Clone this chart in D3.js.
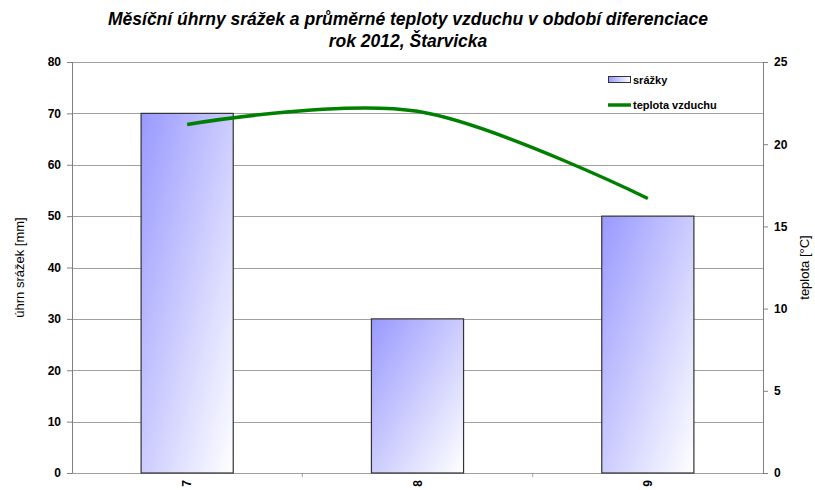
<!DOCTYPE html>
<html>
<head>
<meta charset="utf-8">
<script src="https://cdn.jsdelivr.net/npm/d3@7"></script>
<style>
  body { margin: 0; background: #fff; }
  text { font-family: "Liberation Sans", Arial, sans-serif; }
</style>
</head>
<body>
<div id="chart"></div>
<script>
var width = 815,
    height = 490;

var months = ["7", "8", "9"];
var srazky = [70, 30, 50];
var teplota = [21.2, 22.0, 16.7];
var leftTicks = [0, 10, 20, 30, 40, 50, 60, 70, 80];
var rightTicks = [0, 5, 10, 15, 20, 25];

var margin = {top: 62, right: 52, bottom: 17, left: 72};
var plotW = width - margin.left - margin.right,
    plotH = height - margin.top - margin.bottom;

var svg = d3.select("#chart").append("svg")
    .attr("width", width)
    .attr("height", height);

var defs = svg.append("defs");
var grad = defs.append("linearGradient")
    .attr("id", "barGrad")
    .attr("x1", "0%").attr("y1", "0%")
    .attr("x2", "100%").attr("y2", "100%");
grad.append("stop").attr("offset", "0%").attr("stop-color", "#9999ff");
grad.append("stop").attr("offset", "100%").attr("stop-color", "#ffffff");

var legGrad = defs.append("linearGradient")
    .attr("id", "legGrad")
    .attr("x1", "0%").attr("y1", "0%")
    .attr("x2", "100%").attr("y2", "0%");
legGrad.append("stop").attr("offset", "0%").attr("stop-color", "#9999ff");
legGrad.append("stop").attr("offset", "100%").attr("stop-color", "#ffffff");

// title
var title = svg.append("text")
    .attr("x", 408)
    .attr("text-anchor", "middle")
    .style("font-size", "17.5px")
    .style("font-weight", "bold")
    .style("font-style", "italic");
title.append("tspan").attr("x", 408).attr("y", 25)
    .text("Měsíční úhrny srážek a průměrné teploty vzduchu v období diferenciace");
title.append("tspan").attr("x", 408).attr("y", 47)
    .text("rok 2012, Štarvicka");

var g = svg.append("g")
    .attr("transform", "translate(" + margin.left + "," + margin.top + ")");

var x = d3.scaleBand().domain(months).range([0, plotW]).paddingInner(0).paddingOuter(0);
var yL = d3.scaleLinear().domain([0, 80]).range([plotH, 0]);
var yR = d3.scaleLinear().domain([0, 25]).range([plotH, 0]);

// gridlines
g.append("g").selectAll("line")
    .data(leftTicks.slice(1))
    .enter().append("line")
    .attr("x1", 0).attr("x2", plotW)
    .attr("y1", function(d) { return Math.round(yL(d)) + 0.5; })
    .attr("y2", function(d) { return Math.round(yL(d)) + 0.5; })
    .attr("stroke", "#a0a0a0");

// left axis
var axL = g.append("g")
    .call(d3.axisLeft(yL).tickValues(leftTicks).tickSize(5).tickPadding(6));
axL.select(".domain").attr("stroke", "#808080");
axL.selectAll(".tick line").attr("stroke", "#808080");
axL.selectAll("text")
    .style("font-size", "12px").style("font-weight", "bold")
    .attr("fill", "#000").style("font-family", "Liberation Sans, Arial, sans-serif");

// right axis
var axR = g.append("g")
    .attr("transform", "translate(" + plotW + ",0)")
    .call(d3.axisRight(yR).tickValues(rightTicks).tickSize(5).tickPadding(6));
axR.select(".domain").attr("stroke", "#808080");
axR.selectAll(".tick line").attr("stroke", "#808080");
axR.selectAll("text")
    .style("font-size", "12px").style("font-weight", "bold")
    .attr("fill", "#000").style("font-family", "Liberation Sans, Arial, sans-serif");

// bottom axis
var axB = g.append("g")
    .attr("transform", "translate(0," + plotH + ")");
axB.append("line")
    .attr("x1", 0).attr("x2", plotW)
    .attr("y1", 0.5).attr("y2", 0.5)
    .attr("stroke", "#a0a0a0");
axB.selectAll(".sep")
    .data(months.slice(1))
    .enter().append("line")
    .attr("class", "sep")
    .attr("x1", function(d) { return x(d); })
    .attr("x2", function(d) { return x(d); })
    .attr("y1", 0).attr("y2", 4)
    .attr("stroke", "#a0a0a0");
axB.selectAll(".lbl")
    .data(months)
    .enter().append("text")
    .attr("class", "lbl")
    .attr("transform", function(d) {
        return "translate(" + (x(d) + x.bandwidth() / 2 + 4) + ",7) rotate(-90)";
    })
    .attr("text-anchor", "end")
    .style("font-size", "12px").style("font-weight", "bold")
    .text(function(d) { return d; });

// bars
var barW = x.bandwidth() * 0.4;
g.selectAll(".bar")
    .data(months)
    .enter().append("rect")
    .attr("class", "bar")
    .attr("x", function(d) { return x(d) + (x.bandwidth() - barW) / 2; })
    .attr("y", function(d, i) { return yL(srazky[i]); })
    .attr("width", barW)
    .attr("height", function(d, i) { return plotH - yL(srazky[i]); })
    .attr("fill", "url(#barGrad)")
    .attr("stroke", "#333")
    .attr("stroke-width", 1.2);

// temperature line
var line = d3.line()
    .x(function(d, i) { return x(months[i]) + x.bandwidth() / 2; })
    .y(function(d) { return yR(d); })
    .curve(d3.curveCardinal.tension(0));
g.append("path")
    .datum(teplota)
    .attr("d", line)
    .attr("fill", "none")
    .attr("stroke", "#008000")
    .attr("stroke-width", 3.5);

// axis titles
svg.append("text")
    .attr("transform", "translate(24," + (margin.top + plotH / 2) + ") rotate(-90)")
    .attr("text-anchor", "middle")
    .style("font-size", "13px")
    .text("úhrn srážek [mm]");
svg.append("text")
    .attr("transform", "translate(809," + (margin.top + plotH / 2) + ") rotate(-90)")
    .attr("text-anchor", "middle")
    .style("font-size", "13px")
    .text("teplota [°C]");

// legend
var leg = svg.append("g").attr("transform", "translate(608,0)");
leg.append("rect")
    .attr("x", 0.5).attr("y", 76.5)
    .attr("width", 22).attr("height", 6)
    .attr("fill", "url(#legGrad)")
    .attr("stroke", "#333");
leg.append("text")
    .attr("x", 25).attr("y", 84)
    .style("font-size", "11px").style("font-weight", "bold")
    .text("srážky");
leg.append("line")
    .attr("x1", 0).attr("x2", 23)
    .attr("y1", 105).attr("y2", 105)
    .attr("stroke", "#008000").attr("stroke-width", 3.5);
leg.append("text")
    .attr("x", 25).attr("y", 109)
    .style("font-size", "11px").style("font-weight", "bold")
    .text("teplota vzduchu");
</script>
</body>
</html>
